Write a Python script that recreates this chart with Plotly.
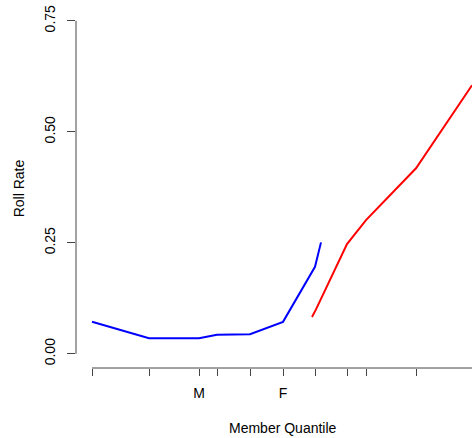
import plotly.graph_objects as go

# Data (x in arbitrary quantile units)
x_ticks = [0, 5.7, 10.7, 12.5, 15.8, 19.1, 22.3, 25.5, 27.4, 32.4]
x_tick_labels = ["", "", "M", "", "", "F", "", "", "", ""]

blue_x = [0, 5.7, 10.7, 12.5, 15.8, 19.1, 22.3, 22.9]
blue_y = [0.072, 0.035, 0.035, 0.043, 0.044, 0.072, 0.196, 0.251]

red_x = [22.0, 22.4, 25.5, 27.4, 32.4, 38.0]
red_y = [0.083, 0.100, 0.247, 0.301, 0.418, 0.605]

y_ticks = [0, 0.25, 0.5, 0.75]
y_tick_labels = ["0.00", "0.25", "0.50", "0.75"]

x_range = [-1.6, 38.0]
y_range = [-0.032, 0.779]

font = dict(family="Liberation Sans, Arial, sans-serif", size=14, color="black")

fig = go.Figure()
fig.add_trace(go.Scatter(x=blue_x, y=blue_y, mode="lines",
                         line=dict(color="#0000FF", width=2), showlegend=False))
fig.add_trace(go.Scatter(x=red_x, y=red_y, mode="lines",
                         line=dict(color="#FF0000", width=2), showlegend=False))

axis_color = "#444444"
# R-style axis lines spanning tick range
fig.add_shape(type="line", xref="paper", yref="y", x0=0, x1=0,
              y0=y_ticks[0], y1=y_ticks[-1], line=dict(color=axis_color, width=1))
fig.add_shape(type="line", xref="x", yref="paper", x0=x_ticks[0], x1=x_range[1],
              y0=0, y1=0, line=dict(color=axis_color, width=1))

fig.update_layout(
    width=472, height=438,
    margin=dict(l=76, r=0, t=8, b=70),
    plot_bgcolor="white", paper_bgcolor="white",
    font=font,
    xaxis=dict(range=x_range, showgrid=False, zeroline=False, showline=False,
               tickmode="array", tickvals=x_ticks, ticktext=x_tick_labels,
               ticks="outside", ticklen=7, tickwidth=1, tickcolor=axis_color,
               tickfont=font, ticklabelstandoff=5),
    yaxis=dict(range=y_range, showgrid=False, zeroline=False, showline=False,
               tickmode="array", tickvals=y_ticks, ticktext=y_tick_labels,
               ticks="outside", ticklen=8, tickwidth=1, tickcolor=axis_color,
               tickangle=-90, tickfont=font, ticklabelstandoff=6),
    annotations=[
        dict(text="Roll Rate", xref="paper", yref="paper", x=-0.143, y=0.5,
             xanchor="center", yanchor="middle", textangle=-90, showarrow=False, font=font),
        dict(text="Member Quantile", xref="paper", yref="paper", x=0.5215, y=-0.1667,
             xanchor="center", yanchor="middle", showarrow=False, font=font),
    ],
)

fig.write_html("out.html")
